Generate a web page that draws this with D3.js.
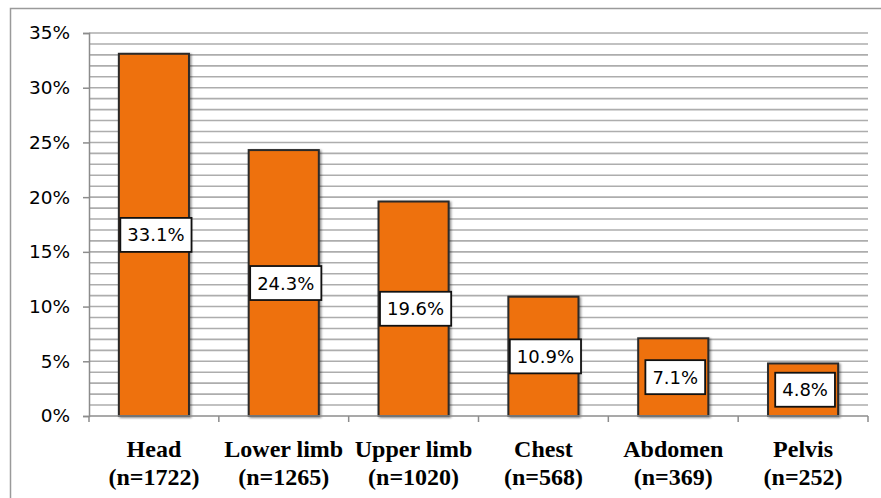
<!DOCTYPE html>
<html>
<head>
<meta charset="utf-8">
<script src="https://cdn.jsdelivr.net/npm/d3@7"></script>
<style>
  html, body { margin: 0; padding: 0; background: #fff; }
  svg { display: block; }
</style>
</head>
<body>
<svg id="chart" width="881" height="498"></svg>
<script>
// Injury region share of cases
const regions = ["Head", "Lower limb", "Upper limb", "Chest", "Abdomen", "Pelvis"];
const counts = ["n=1722", "n=1265", "n=1020", "n=568", "n=369", "n=252"];
const shares = [33.1, 24.3, 19.6, 10.9, 7.1, 4.8];
const yTicks = [0, 5, 10, 15, 20, 25, 30, 35];

const svg = d3.select("#chart");
const W = 881, H = 498;
const plotLeft = 89, plotRight = 868, plotTop = 33, plotBottom = 416;

// drop shadows for bars
const defs = svg.append("defs");
const sh = defs.append("filter").attr("id", "shadow")
  .attr("x", "-20%").attr("y", "-20%").attr("width", "140%").attr("height", "140%");
sh.append("feDropShadow").attr("dx", 1.5).attr("dy", 1).attr("stdDeviation", 1.2)
  .attr("flood-color", "#000").attr("flood-opacity", 0.45);

// outer frame
svg.append("rect")
  .attr("x", 10.5).attr("y", 8.5).attr("width", W).attr("height", H)
  .attr("fill", "none").attr("stroke", "#9a9a9a").attr("stroke-width", 1.5);

const x = d3.scaleBand().domain(regions).range([plotLeft, plotRight])
  .paddingInner(0.46).paddingOuter(0.23);
const y = d3.scaleLinear().domain([0, 35]).range([plotBottom, plotTop]);

// horizontal gridlines every 1%
const grid = d3.range(1, 36);
svg.append("g").selectAll("line").data(grid).join("line")
  .attr("x1", plotLeft).attr("x2", plotRight)
  .attr("y1", d => y(d)).attr("y2", d => y(d))
  .attr("stroke", "#adadad").attr("stroke-width", 1.6);

// y axis
const yAxis = d3.axisLeft(y).tickValues(yTicks).tickFormat(d => d + "%")
  .tickSize(6).tickPadding(13);
const gy = svg.append("g").attr("transform", `translate(${plotLeft},0)`).call(yAxis);
gy.select(".domain").attr("stroke", "#8c8c8c").attr("stroke-width", 1.5);
gy.selectAll(".tick line").attr("stroke", "#8c8c8c").attr("stroke-width", 1.5);
gy.selectAll(".tick text")
  .attr("font-family", "'DejaVu Sans', sans-serif").attr("font-size", 18.5)
  .attr("fill", "#000");

// bars
svg.append("g").selectAll("rect").data(shares).join("rect")
  .attr("x", (d, i) => x(regions[i]))
  .attr("y", d => y(d))
  .attr("width", x.bandwidth())
  .attr("height", d => plotBottom - y(d))
  .attr("fill", "#ee7110")
  .attr("stroke", "#2a2a2a").attr("stroke-width", 2)
  .attr("filter", "url(#shadow)");

// x axis with ticks at category boundaries
const gx = svg.append("g");
gx.append("line").attr("x1", plotLeft).attr("x2", plotRight)
  .attr("y1", plotBottom).attr("y2", plotBottom)
  .attr("stroke", "#8c8c8c").attr("stroke-width", 1.5);
const step = x.step();
gx.selectAll("line.t").data(d3.range(0, regions.length + 1)).join("line")
  .attr("class", "t")
  .attr("x1", i => plotLeft + i * step).attr("x2", i => plotLeft + i * step)
  .attr("y1", plotBottom).attr("y2", plotBottom + 6)
  .attr("stroke", "#8c8c8c").attr("stroke-width", 1.5);

// category labels, two lines
const cat = svg.append("g").selectAll("text").data(regions).join("text")
  .attr("text-anchor", "middle")
  .attr("font-family", "'Liberation Serif', 'Times New Roman', serif")
  .attr("font-weight", "bold").attr("font-size", 24).attr("fill", "#000");
cat.append("tspan").attr("x", d => x(d) + x.bandwidth() / 2).attr("y", 457).text(d => d);
cat.append("tspan").attr("x", d => x(d) + x.bandwidth() / 2).attr("y", 485)
  .text((d, i) => "(" + counts[i] + ")");

// value labels in boxes at bar mid-height
const lab = svg.append("g").selectAll("g").data(shares).join("g")
  .attr("transform", (d, i) => `translate(${x(regions[i]) + x.bandwidth() / 2 + 2},${y(d / 2)})`);
lab.append("text")
  .attr("text-anchor", "middle").attr("dy", "0.36em")
  .attr("font-family", "'DejaVu Sans', sans-serif").attr("font-size", 18)
  .attr("fill", "#000")
  .text(d => d.toFixed(1) + "%");
lab.each(function () {
  const g = d3.select(this);
  const b = g.select("text").node().getBBox();
  g.insert("rect", "text")
    .attr("x", b.x - 7).attr("y", -17)
    .attr("width", b.width + 14).attr("height", 34)
    .attr("fill", "#fff").attr("stroke", "#111").attr("stroke-width", 1.8);
});
</script>
</body>
</html>
